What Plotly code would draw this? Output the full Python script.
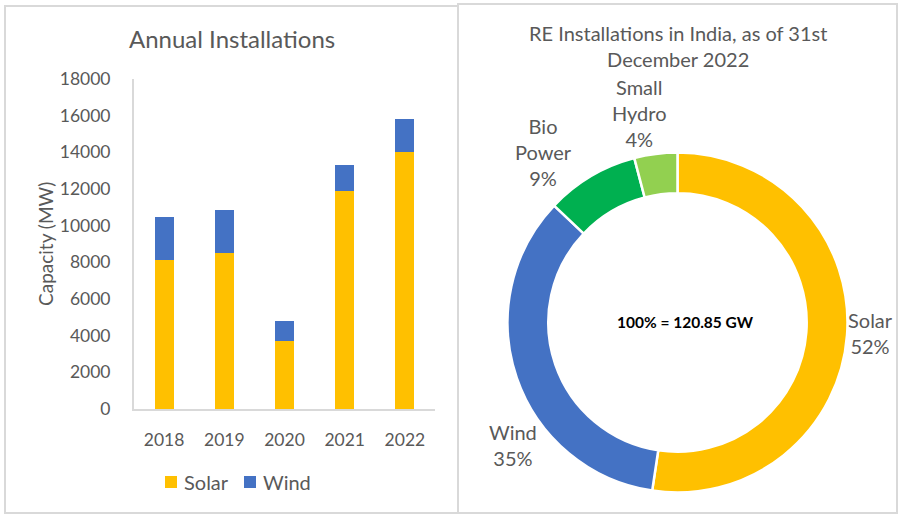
import plotly.graph_objects as go

# ---- data ----
years = ["2018", "2019", "2020", "2021", "2022"]
solar_mw = [8150, 8530, 3730, 11900, 14000]
wind_mw = [2300, 2350, 1090, 1430, 1840]
bar_series = ["Solar", "Wind"]
bar_colors = ["#FFC000", "#4472C4"]

re_sources = ["Solar", "Wind", "Bio Power", "Small Hydro"]
re_labels = ["Solar", "Wind", "Bio<br>Power", "Small<br>Hydro"]
re_gw = [63.30, 41.93, 10.68, 4.94]
re_colors = ["#FFC000", "#4472C4", "#00B050", "#92D050"]

W, H = 901, 519
FONT = "Lato"
GREY = "#595959"
LINE = "#D9D9D9"


def px(x):
    return x / W


def py(y):
    return 1 - y / H


fig = go.Figure()

for name, vals, col in zip(bar_series, [solar_mw, wind_mw], bar_colors):
    fig.add_trace(go.Bar(x=years, y=vals, name=name, marker_color=col,
                         marker_line_width=0, showlegend=False))

total = sum(re_gw)
fig.add_trace(go.Pie(
    labels=re_sources, values=re_gw, sort=False, direction="clockwise", rotation=0,
    hole=0.76, marker=dict(colors=re_colors, line=dict(color="white", width=2.5)),
    textinfo="none", hoverinfo="label+percent", showlegend=False,
    domain=dict(x=[px(507.5), px(847.5)], y=[py(492.5), py(152.5)]),
))

annotations = []
shapes = []
# donut labels
label_pos = [(870, 333), (513, 445), (543, 152), (639, 113)]
for lab, v, (lx, ly) in zip(re_labels, re_gw, label_pos):
    annotations.append(dict(
        text=f"{lab}<br>{round(v / total * 100)}%", x=px(lx), y=py(ly),
        xref="paper", yref="paper", showarrow=False, xanchor="center", yanchor="middle",
        font=dict(family=FONT, size=20, color=GREY), align="center",
    ))
annotations.append(dict(
    text=f"<b>100% = {total:.2f} GW</b>", x=px(685), y=py(322), xref="paper", yref="paper",
    showarrow=False, xanchor="center", yanchor="middle",
    font=dict(family=FONT, size=15.5, color="black"),
))
# titles
annotations.append(dict(
    text="Annual Installations", x=px(232), y=py(38.5), xref="paper", yref="paper",
    showarrow=False, xanchor="center", yanchor="middle",
    font=dict(family=FONT, size=24, color=GREY),
))
annotations.append(dict(
    text="RE Installations in India, as of 31st<br>December 2022", x=px(678), y=py(45.5),
    xref="paper", yref="paper", showarrow=False, xanchor="center", yanchor="middle",
    font=dict(family=FONT, size=20, color=GREY), align="center",
))
annotations.append(dict(
    text="Capacity (MW)", x=px(45), y=py(244), xref="paper", yref="paper", textangle=-90,
    showarrow=False, xanchor="center", yanchor="middle",
    font=dict(family=FONT, size=19, color=GREY),
))

# legend (manual, to match spacing)
legend_x = [165, 244]
for name, col, lx in zip(bar_series, bar_colors, legend_x):
    shapes.append(dict(type="rect", xref="paper", yref="paper", x0=px(lx), x1=px(lx + 12),
                       y0=py(488), y1=py(476), fillcolor=col, line=dict(width=0)))
    annotations.append(dict(text=name, x=px(lx + 17), y=py(482), xref="paper", yref="paper",
                            showarrow=False, xanchor="left", yanchor="middle",
                            font=dict(family=FONT, size=20, color=GREY)))

shapes += [
    dict(type="rect", xref="paper", yref="paper", x0=px(5), x1=px(458), y0=py(513), y1=py(6),
         line=dict(color=LINE, width=2)),
    dict(type="rect", xref="paper", yref="paper", x0=px(458), x1=px(897), y0=py(513), y1=py(4),
         line=dict(color=LINE, width=2)),
]

fig.update_layout(
    width=W, height=H, margin=dict(l=0, r=0, t=0, b=0, autoexpand=False),
    paper_bgcolor="white", plot_bgcolor="white",
    barmode="stack", bargap=0.683, showlegend=False,
    font=dict(family=FONT, color=GREY),
    xaxis=dict(domain=[px(134), px(435)], type="category", showgrid=False, showline=True,
               linecolor=LINE, linewidth=2, ticks="", tickfont=dict(size=17.5, color=GREY),
               ticklabelstandoff=14, fixedrange=True, automargin=False),
    yaxis=dict(domain=[py(409), py(79)], range=[0, 18000], tickvals=list(range(0, 18001, 2000)),
               tickformat="d", showgrid=False, showline=True, linecolor=LINE, linewidth=2,
               ticks="", tickfont=dict(size=17.5, color=GREY), ticklabelstandoff=18,
               zeroline=False, fixedrange=True, automargin=False),
    annotations=annotations, shapes=shapes,
)

fig.write_html("out.html")
